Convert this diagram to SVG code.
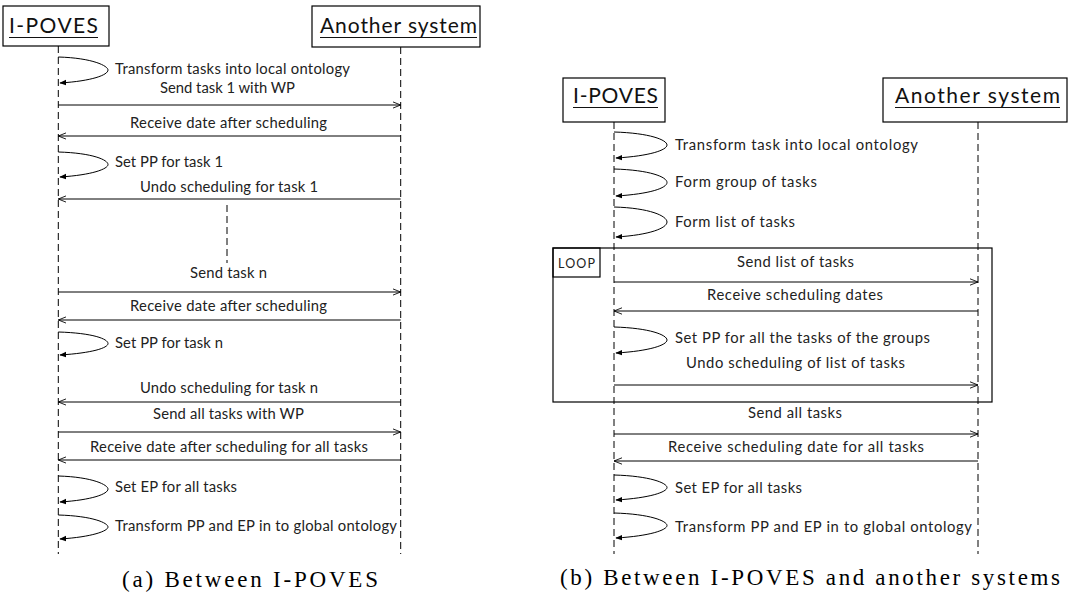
<svg xmlns="http://www.w3.org/2000/svg" width="1068" height="595" viewBox="0 0 1068 595">
  <style>
    .box { fill: #fff; stroke: #000; stroke-width: 1.2; }
    .frame { fill: none; stroke: #000; stroke-width: 1.2; }
    .life { stroke: #000; stroke-width: 1; stroke-dasharray: 7 4; fill: none; }
    .msg { stroke: #000; stroke-width: 1; fill: none; marker-end: url(#open); }
    .self { stroke: #000; stroke-width: 1; fill: none; marker-end: url(#solid); }
    .lbl { font-family: Lato, "Open Sans", sans-serif; font-size: 14.8px; fill: #222; }
    .title { font-family: Lato, "Open Sans", sans-serif; font-size: 21px; fill: #111; }
    .ul { stroke: #111; stroke-width: 1.2; }
    .cap { font-family: "Liberation Serif", serif; font-size: 23px; fill: #000; }
    .loop { font-family: Lato, "Open Sans", sans-serif; font-size: 12.5px; fill: #222; }
  </style>
  <defs>
    <marker id="open" viewBox="0 0 10 10" refX="10" refY="5" markerWidth="8" markerHeight="8" markerUnits="userSpaceOnUse" orient="auto">
      <path d="M0,1 L10,5 L0,9" fill="none" stroke="#000" stroke-width="1.1"/>
    </marker>
    <marker id="solid" viewBox="0 0 10 10" refX="9" refY="5" markerWidth="7" markerHeight="7" markerUnits="userSpaceOnUse" orient="auto">
      <path d="M0,1 L10,5 L0,9 z" fill="#000"/>
    </marker>
  </defs>

  <!-- ===== (a) Between I-POVES ===== -->
  <g id="a-iposves">
    <rect class="box" x="3" y="6" width="106" height="40"/>
    <text class="title" x="9" y="33" textLength="89">I-POVES</text>
    <line class="ul" x1="9" y1="37.5" x2="98" y2="37.5"/>
    <line class="life" x1="58.3" y1="46" x2="58.3" y2="554"/>
  </g>
  <g id="a-another">
    <rect class="box" x="312" y="6" width="168" height="41"/>
    <text class="title" x="320" y="33" textLength="157">Another system</text>
    <line class="ul" x1="320" y1="37.5" x2="477" y2="37.5"/>
    <line class="life" x1="400.7" y1="47" x2="400.7" y2="554"/>
  </g>
  <g id="a-gap">
    <line class="life" x1="227" y1="205" x2="227" y2="263"/>
  </g>

  <g id="a-connectors">
    <path class="self" d="M58.3,57 C93,58 108,66 108,70 C108,75 92,81 60,83"/>
    <text class="lbl" x="115" y="74" textLength="235">Transform tasks into local ontology</text>

    <text class="lbl" x="160" y="93" textLength="135">Send task 1 with WP</text>
    <line class="msg" x1="58.3" y1="105" x2="400.7" y2="105"/>

    <text class="lbl" x="130" y="128" textLength="197">Receive date after scheduling</text>
    <line class="msg" x1="400.7" y1="136" x2="58.3" y2="136"/>

    <path class="self" d="M58.3,152 C93,153 108,160 108,164.5 C108,169 92,175 60,177"/>
    <text class="lbl" x="115" y="167" textLength="108">Set PP for task 1</text>

    <text class="lbl" x="140" y="192" textLength="178">Undo scheduling for task 1</text>
    <line class="msg" x1="400.7" y1="199" x2="58.3" y2="199"/>

    <text class="lbl" x="190" y="278" textLength="77">Send task n</text>
    <line class="msg" x1="58.3" y1="292" x2="400.7" y2="292"/>

    <text class="lbl" x="130" y="311" textLength="197">Receive date after scheduling</text>
    <line class="msg" x1="400.7" y1="320" x2="58.3" y2="320"/>

    <path class="self" d="M58.3,332 C93,333 108,339 108,343.5 C108,348 92,353 60,355"/>
    <text class="lbl" x="115" y="348" textLength="108">Set PP for task n</text>

    <text class="lbl" x="140" y="393" textLength="178">Undo scheduling for task n</text>
    <line class="msg" x1="400.7" y1="402" x2="58.3" y2="402"/>

    <text class="lbl" x="153" y="419" textLength="151">Send all tasks with WP</text>
    <line class="msg" x1="58.3" y1="432" x2="400.7" y2="432"/>

    <text class="lbl" x="90" y="452" textLength="278">Receive date after scheduling for all tasks</text>
    <line class="msg" x1="400.7" y1="460" x2="58.3" y2="460"/>

    <path class="self" d="M58.3,476 C93,477 108,485 108,489 C108,494 92,500 60,502"/>
    <text class="lbl" x="115" y="492" textLength="122">Set EP for all tasks</text>

    <path class="self" d="M58.3,515 C93,516 108,523 108,527 C108,531 92,537 60,539"/>
    <text class="lbl" x="115" y="531" textLength="282">Transform PP and EP in to global ontology</text>
  </g>

  <text class="cap" x="122" y="587" textLength="256">(a) Between I-POVES</text>

  <!-- ===== (b) Between I-POVES and another systems ===== -->
  <g id="b-iposves">
    <rect class="box" x="563" y="78" width="102" height="44"/>
    <text class="title" x="573" y="103" textLength="85">I-POVES</text>
    <line class="ul" x1="573" y1="107.5" x2="658" y2="107.5"/>
    <line class="life" x1="614" y1="122" x2="614" y2="554"/>
  </g>
  <g id="b-another">
    <rect class="box" x="883" y="78" width="184" height="44"/>
    <text class="title" x="895" y="103" textLength="165">Another system</text>
    <line class="ul" x1="895" y1="107.5" x2="1060" y2="107.5"/>
    <line class="life" x1="978" y1="122" x2="978" y2="554"/>
  </g>
  <g id="b-loop">
    <rect class="frame" x="553" y="248" width="439" height="154"/>
    <rect class="frame" x="553" y="248" width="47" height="29"/>
    <text class="loop" x="558" y="268" textLength="37">LOOP</text>
  </g>

  <g id="b-connectors">
    <path class="self" d="M614,132 C650,133 667,140 667,145 C667,150 650,156 616,158"/>
    <text class="lbl" x="675" y="150" textLength="243">Transform task into local ontology</text>

    <path class="self" d="M614,169 C650,170 667,177 667,182.5 C667,188 650,194 616,196"/>
    <text class="lbl" x="675" y="187" textLength="142">Form group of tasks</text>

    <path class="self" d="M614,207 C650,208 667,216 667,222 C667,228 650,235 616,237"/>
    <text class="lbl" x="675" y="227" textLength="120">Form list of tasks</text>

    <text class="lbl" x="737" y="267" textLength="117">Send list of tasks</text>
    <line class="msg" x1="614" y1="282" x2="978" y2="282"/>

    <text class="lbl" x="707" y="300" textLength="176">Receive scheduling dates</text>
    <line class="msg" x1="978" y1="311" x2="614" y2="311"/>

    <path class="self" d="M614,327 C650,328 667,335 667,340 C667,345 650,351 616,353"/>
    <text class="lbl" x="675" y="343" textLength="255">Set PP for all the tasks of the groups</text>

    <text class="lbl" x="686" y="368" textLength="219">Undo scheduling of list of tasks</text>
    <line class="msg" x1="614" y1="385" x2="978" y2="385"/>

    <text class="lbl" x="748" y="418" textLength="94">Send all tasks</text>
    <line class="msg" x1="614" y1="434" x2="978" y2="434"/>

    <text class="lbl" x="668" y="452" textLength="256">Receive scheduling date for all tasks</text>
    <line class="msg" x1="978" y1="461" x2="614" y2="461"/>

    <path class="self" d="M614,475 C650,476 667,483 667,487.5 C667,492 650,498 616,500"/>
    <text class="lbl" x="675" y="493" textLength="127">Set EP for all tasks</text>

    <path class="self" d="M614,513 C650,514 667,521 667,525.5 C667,530 650,536 616,538"/>
    <text class="lbl" x="675" y="532" textLength="297">Transform PP and EP in to global ontology</text>
  </g>

  <text class="cap" x="560" y="585" textLength="500">(b) Between I-POVES and another systems</text>
</svg>
